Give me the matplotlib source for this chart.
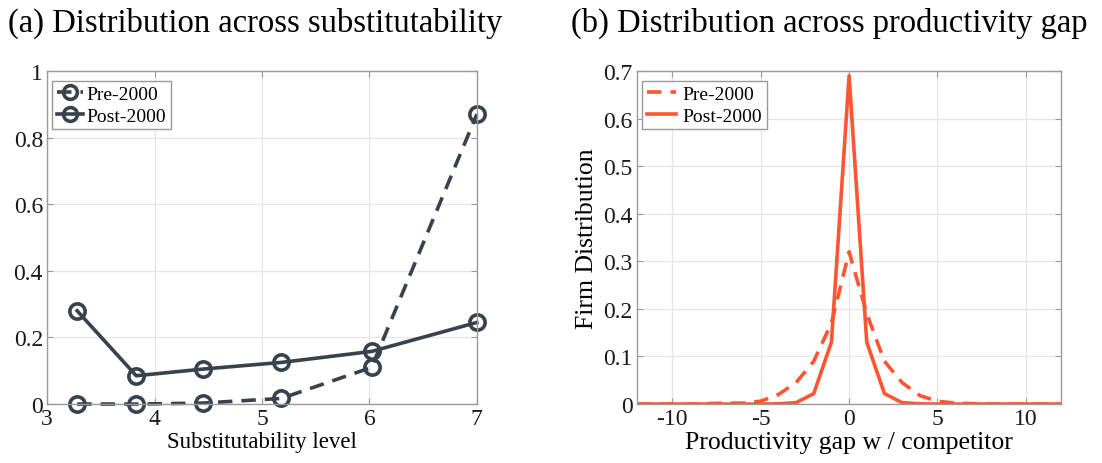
import matplotlib.pyplot as plt
import numpy as np

plt.rcParams['font.family'] = ['Liberation Serif', 'DejaVu Serif']
plt.rcParams['axes.unicode_minus'] = False

# panel (a): distribution across substitutability levels
subst_level = [3.28, 3.83, 4.45, 5.18, 6.02, 7.0]
subst_pre = [0.0, 0.0, 0.003, 0.017, 0.11, 0.87]
subst_post = [0.28, 0.085, 0.105, 0.125, 0.158, 0.245]

# panel (b): distribution across productivity gap
gap = list(range(-12, 13))
gap_pre = [0, 0, 0, 0, 0.001, 0.002, 0.002, 0.006, 0.02, 0.045, 0.09, 0.17, 0.32,
           0.19, 0.09, 0.045, 0.018, 0.006, 0.002, 0.001, 0, 0, 0, 0, 0]
gap_post = [0, 0, 0, 0, 0, 0, 0, 0, 0.0005, 0.003, 0.022, 0.13, 0.69,
            0.13, 0.022, 0.003, 0.0005, 0, 0, 0, 0, 0, 0, 0, 0]

dark = '#37424d'
orange = '#ff5533'
grid_col = '#e6e6e6'
spine_col = '#9a9a9a'

fig = plt.figure(figsize=(11.02, 4.64), dpi=100)
ax1 = fig.add_axes([0.0427, 0.127, 0.390, 0.718])
ax2 = fig.add_axes([0.578, 0.127, 0.385, 0.718])


def style(ax):
    ax.grid(True, color=grid_col, linewidth=0.9)
    ax.set_axisbelow(True)
    for s in ax.spines.values():
        s.set_color(spine_col)
        s.set_linewidth(1.0)
    ax.tick_params(direction='in', length=4, color=spine_col, labelsize=17,
                   labelcolor='#1a1a1a', top=True, right=True, pad=3)


# left panel
ax1.plot(subst_level, subst_pre, '--o', color=dark, lw=2.6, dashes=(4, 2.5),
         ms=11, mew=2.6, mfc='none', label='Pre-2000', clip_on=False)
ax1.plot(subst_level, subst_post, '-o', color=dark, lw=2.6,
         ms=11, mew=2.6, mfc='none', label='Post-2000', clip_on=False)
ax1.set_xlim(3, 7)
ax1.set_ylim(0, 1)
ax1.set_xticks([3, 4, 5, 6, 7])
ax1.set_yticks([0, 0.2, 0.4, 0.6, 0.8, 1])
ax1.set_yticklabels(['0', '0.2', '0.4', '0.6', '0.8', '1'])
style(ax1)
ax1.set_xlabel('Substitutability level', fontsize=16.5, labelpad=1)
leg1 = ax1.legend(loc='upper left', fontsize=14, handlelength=1.3, handletextpad=0.2,
                  borderpad=0.25, labelspacing=0.2, fancybox=False, framealpha=1,
                  bbox_to_anchor=(-0.01, 1.0), numpoints=1, markerscale=0.9)
leg1.get_frame().set_edgecolor(spine_col)
fig.text(0.007, 0.95, '(a) Distribution across substitutability', fontsize=23.5,
         ha='left', va='center')

# right panel
ax2.plot(gap, gap_pre, '--', color=orange, lw=2.6, dashes=(4, 2.5), label='Pre-2000')
ax2.plot(gap, gap_post, '-', color=orange, lw=2.6, label='Post-2000')
ax2.set_xlim(-12, 12)
ax2.set_ylim(0, 0.7)
ax2.set_xticks([-10, -5, 0, 5, 10])
ax2.set_yticks(np.arange(0, 0.71, 0.1))
ax2.set_yticklabels(['0', '0.1', '0.2', '0.3', '0.4', '0.5', '0.6', '0.7'])
style(ax2)
ax2.set_xlabel('Productivity gap w / competitor', fontsize=18.5, labelpad=1)
ax2.set_ylabel('Firm Distribution', fontsize=18.5, labelpad=4)
leg2 = ax2.legend(loc='upper left', fontsize=14, handlelength=1.5, handletextpad=0.3,
                  borderpad=0.25, labelspacing=0.2, fancybox=False, framealpha=1,
                  bbox_to_anchor=(-0.01, 1.0))
leg2.get_frame().set_edgecolor(spine_col)
fig.text(0.518, 0.95, '(b) Distribution across productivity gap', fontsize=23.5,
         ha='left', va='center')

fig.savefig('out.png', dpi=100)
